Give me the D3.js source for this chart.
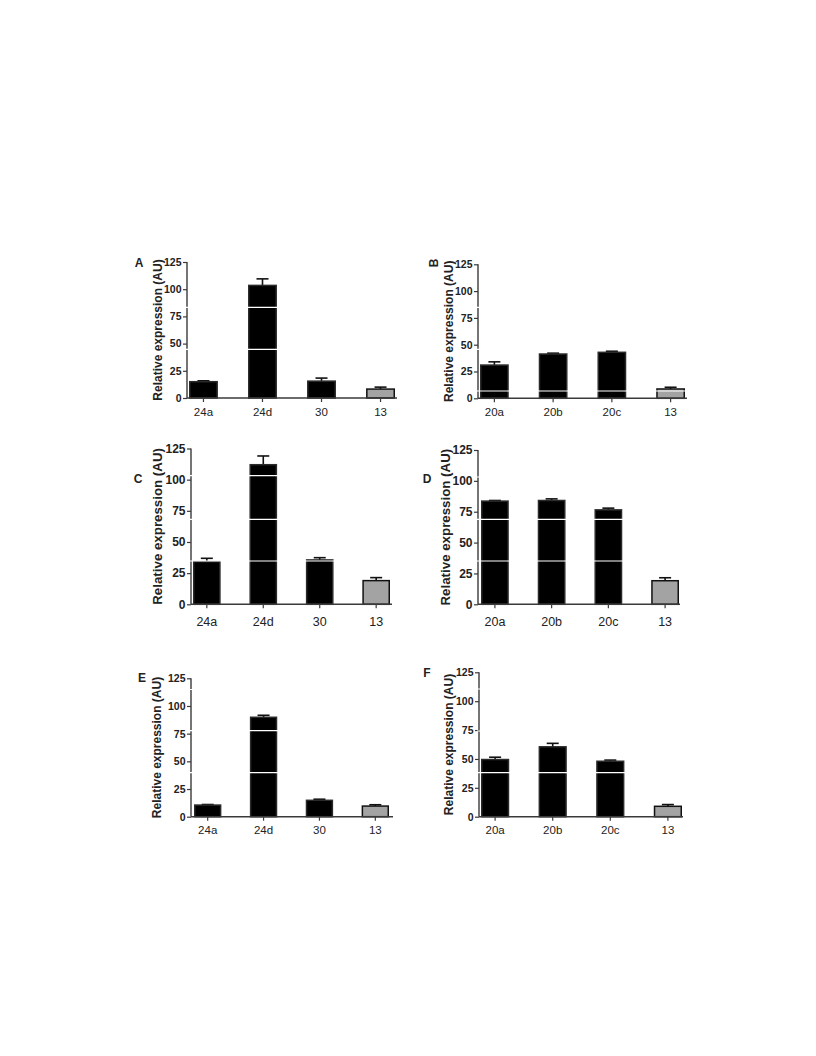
<!DOCTYPE html>
<html>
<head>
<meta charset="utf-8">
<script src="https://cdn.jsdelivr.net/npm/d3@7"></script>
<style>
  html, body { margin: 0; padding: 0; background: #fff; }
  svg { display: block; }
</style>
</head>
<body>
<svg id="chart" width="816" height="1056"></svg>
<script>
// ---- data ----
const categoriesLeft = ["24a", "24d", "30", "13"];
const categoriesRight = ["20a", "20b", "20c", "13"];
const yTickValues = [0, 25, 50, 75, 100, 125];
const yTitle = "Relative expression (AU)";

const valuesA = [15, 103.5, 15.5, 8.2];
const errorsA = [0.8, 6, 2.8, 1.8];
const valuesB = [31, 41.3, 42.9, 8.7];
const errorsB = [3, 0.8, 1, 1.6];
const valuesC = [34.2, 112, 35.6, 19];
const errorsC = [2.7, 7, 1.8, 2.4];
const valuesD = [83.6, 84.1, 76.5, 19.1];
const errorsD = [0.5, 1.3, 1.4, 2.4];
const valuesE = [10.5, 89.8, 14.8, 9.6];
const errorsE = [0.5, 1.8, 1, 1.2];
const valuesF = [49.5, 60.5, 48, 9];
const errorsF = [2, 3, 1, 1.5];

// ---- layout ----
const panels = [
  { letter: "A", cats: categoriesLeft,  vals: valuesA, errs: errorsA,
    x0: 187, x1: 397, y0: 398, yTop: 262, b0: 189, b1: 395,
    lx: 135, ly: 267, tx: 158, tfs: 12, tickFs: 10.5, xFs: 11.5, xLabY: 416, rotLetter: false,
    scan: [307.3, 349.3] },
  { letter: "B", cats: categoriesRight, vals: valuesB, errs: errorsB,
    x0: 478, x1: 687, y0: 398.3, yTop: 264.3, b0: 480, b1: 685,
    lx: 430, ly: 267, tx: 449, tfs: 12, tickFs: 10.5, xFs: 11.5, xLabY: 416, rotLetter: true,
    scan: [307.3, 349.3, 391] },
  { letter: "C", cats: categoriesLeft,  vals: valuesC, errs: errorsC,
    x0: 191, x1: 392, y0: 604.3, yTop: 448.5, b0: 193, b1: 390,
    lx: 134, ly: 483, tx: 157, tfs: 13.3, tickFs: 12, xFs: 12.5, xLabY: 626, rotLetter: false,
    scan: [475.7, 519.3, 561] },
  { letter: "D", cats: categoriesRight, vals: valuesD, errs: errorsD,
    x0: 478, x1: 680, y0: 604.3, yTop: 450, b0: 481, b1: 679,
    lx: 423, ly: 483, tx: 445, tfs: 13.3, tickFs: 12, xFs: 12.5, xLabY: 626, rotLetter: false,
    scan: [477, 519.3, 561] },
  { letter: "E", cats: categoriesLeft,  vals: valuesE, errs: errorsE,
    x0: 191, x1: 393, y0: 816.7, yTop: 678.3, b0: 194, b1: 389,
    lx: 138, ly: 682, tx: 157, tfs: 12, tickFs: 10.5, xFs: 11.5, xLabY: 834, rotLetter: false,
    scan: [689.5, 730.7, 772.7] },
  { letter: "F", cats: categoriesRight, vals: valuesF, errs: errorsF,
    x0: 479, x1: 683, y0: 816.7, yTop: 672.3, b0: 481, b1: 682,
    lx: 423, ly: 677, tx: 449, tfs: 12, tickFs: 10.5, xFs: 11.5, xLabY: 834, rotLetter: false,
    scan: [689, 731, 772.7] }
];

const svg = d3.select("#chart");
const font = "'Liberation Sans', Arial, Helvetica, sans-serif";
const axisColor = "#3a3a3a";
const textColor = "#222";

panels.forEach(p => {
  const g = svg.append("g");
  const y = d3.scaleLinear().domain([0, 125]).range([p.y0, p.yTop]);
  const x = d3.scaleBand().domain(p.cats).range([p.b0, p.b1]).paddingInner(0.51).paddingOuter(0);

  const data = p.cats.map((c, i) => ({ c, v: p.vals[i], e: p.errs[i], last: i === p.cats.length - 1 }));

  // error bars (upper only)
  const capW = 12;
  data.forEach(d => {
    const cx = x(d.c) + x.bandwidth() / 2;
    g.append("line").attr("x1", cx).attr("x2", cx)
      .attr("y1", y(d.v)).attr("y2", y(d.v + d.e))
      .attr("stroke", "#111").attr("stroke-width", 1.6);
    g.append("line").attr("x1", cx - capW / 2).attr("x2", cx + capW / 2)
      .attr("y1", y(d.v + d.e)).attr("y2", y(d.v + d.e))
      .attr("stroke", "#111").attr("stroke-width", 1.6);
  });

  // bars
  g.selectAll("rect.bar").data(data).enter().append("rect")
    .attr("class", "bar")
    .attr("x", d => x(d.c) + 0.75)
    .attr("width", x.bandwidth() - 1.5)
    .attr("y", d => y(d.v))
    .attr("height", d => p.y0 - y(d.v))
    .attr("fill", d => d.last ? "#a3a3a3" : "#000")
    .attr("stroke", d => d.last ? "#111" : "#2a2a2a")
    .attr("stroke-width", 1.5);

  // y axis
  const yAxis = d3.axisLeft(y).tickValues(yTickValues).tickSize(4).tickPadding(1.5).tickFormat(d3.format("d"));
  const ya = g.append("g").attr("transform", `translate(${p.x0},0)`).call(yAxis);
  ya.select(".domain").attr("stroke", axisColor).attr("stroke-width", 1.4)
    .attr("d", `M0,${p.yTop}V${p.y0}`);
  ya.selectAll(".tick line").attr("stroke", axisColor).attr("stroke-width", 1.2);
  ya.selectAll(".tick text").attr("fill", textColor).style("font-family", font)
    .style("font-size", p.tickFs + "px").style("font-weight", "bold");

  // x axis
  const xAxis = d3.axisBottom(x).tickSize(4).tickPadding(0);
  const xa = g.append("g").attr("transform", `translate(0,${p.y0})`).call(xAxis);
  xa.select(".domain").attr("stroke", axisColor).attr("stroke-width", 1.4)
    .attr("d", `M${p.x0},0H${p.x1}`);
  xa.selectAll(".tick line").attr("stroke", axisColor).attr("stroke-width", 1.2);
  xa.selectAll(".tick text").attr("fill", textColor).style("font-family", font)
    .style("font-size", p.xFs + "px")
    .attr("dy", null).attr("y", p.xLabY - p.y0);

  // y title
  const midY = (p.y0 + p.yTop) / 2;
  g.append("text")
    .attr("transform", `translate(${p.tx},${midY}) rotate(-90)`)
    .attr("text-anchor", "middle")
    .attr("dy", "0.35em")
    .attr("fill", textColor)
    .style("font-family", font).style("font-weight", "bold")
    .style("font-size", p.tfs + "px")
    .text(yTitle);

  // panel letter
  const lt = g.append("text")
    .attr("fill", textColor)
    .style("font-family", font).style("font-weight", "bold")
    .style("font-size", "12px")
    .attr("text-anchor", "middle")
    .text(p.letter);
  if (p.rotLetter) {
    lt.attr("transform", `translate(${p.lx + 4},${p.ly - 4}) rotate(-90)`).attr("dy", "0.35em");
  } else {
    lt.attr("x", p.lx + 4).attr("y", p.ly);
  }

  // thin white scan lines visible in the reference image
  p.scan.forEach(sy => {
    g.append("line").attr("x1", p.x0 - 2).attr("x2", p.x1)
      .attr("y1", sy).attr("y2", sy)
      .attr("stroke", "#fff").attr("stroke-width", 1.2);
  });
});
</script>
</body>
</html>
